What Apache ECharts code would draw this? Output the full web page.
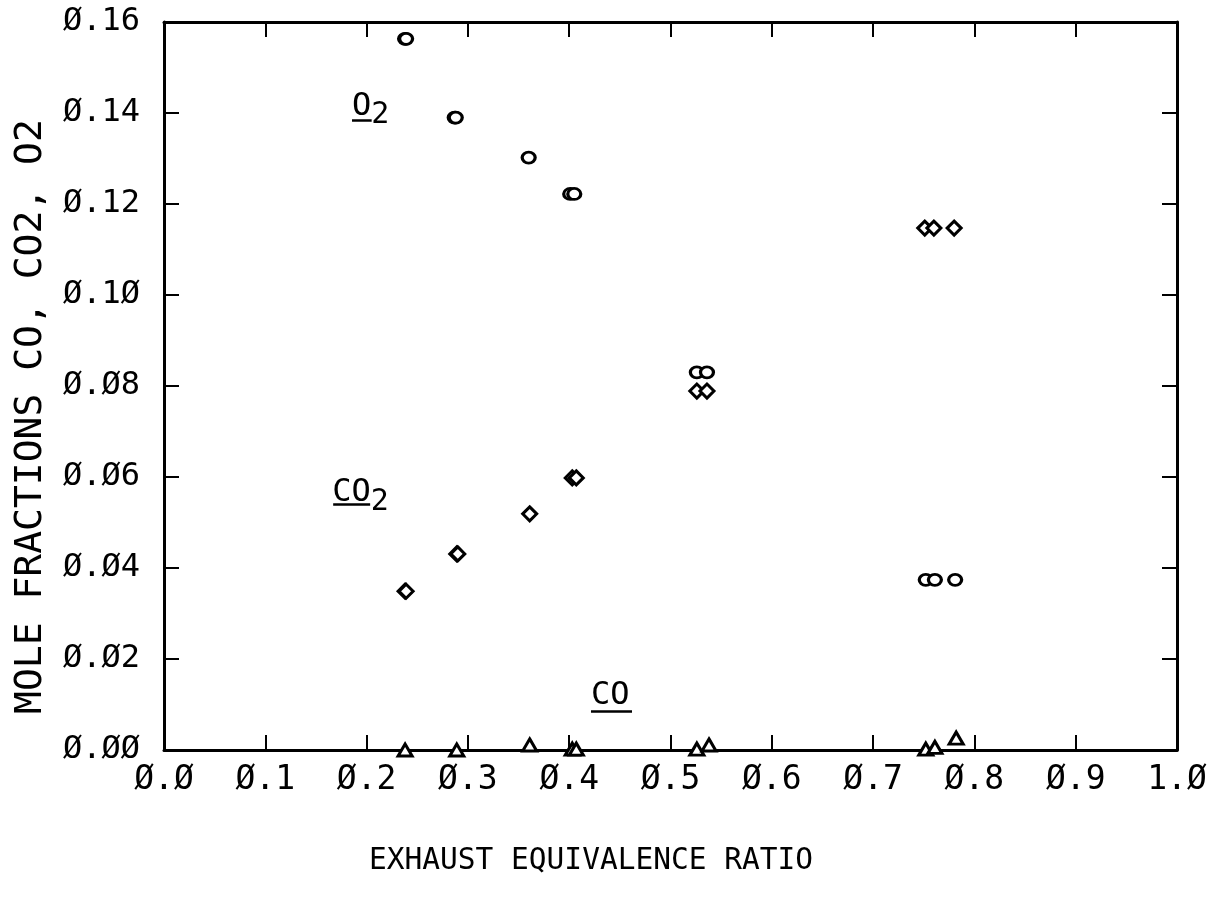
<!DOCTYPE html>
<html><head><meta charset="utf-8">
<script src="https://cdn.jsdelivr.net/npm/echarts@6/dist/echarts.min.js"></script>
<style>html,body{margin:0;padding:0;background:#fff}#c{width:1218px;height:914px}</style>
</head><body><div id="c"></div>
<script>
// Data
var o2X  = [0.238, 0.239, 0.287, 0.288, 0.360, 0.401, 0.405, 0.526, 0.536, 0.752, 0.761, 0.781];
var o2Y  = [0.1563, 0.1563, 0.1390, 0.1390, 0.1302, 0.1222, 0.1222, 0.0830, 0.0830, 0.0374, 0.0374, 0.0374];
var co2X = [0.238, 0.239, 0.289, 0.290, 0.361, 0.403, 0.407, 0.526, 0.536, 0.751, 0.760, 0.780];
var co2Y = [0.0349, 0.0349, 0.0431, 0.0431, 0.0519, 0.0598, 0.0598, 0.0789, 0.0789, 0.1147, 0.1147, 0.1147];
var coX  = [0.238, 0.289, 0.361, 0.403, 0.407, 0.526, 0.538, 0.752, 0.761, 0.782];
var coY  = [0.0000, 0.0000, 0.0011, 0.0002, 0.0002, 0.0002, 0.0011, 0.0002, 0.0006, 0.0026];
var xTicks = [0, 0.1, 0.2, 0.3, 0.4, 0.5, 0.6, 0.7, 0.8, 0.9, 1.0];
var yTicks = [0, 0.02, 0.04, 0.06, 0.08, 0.10, 0.12, 0.14, 0.16];
// annotation labels: [x, y(top-left), main, subscript]
var annotations = [[0.1856, 0.1450, 'O', '2'], [0.1660, 0.0600, 'CO', '2'], [0.4215, 0.0155, 'CO', '']];
// underline segments: [x1, x2, y]
var underlines = [[0.1856, 0.2050, 0.1383], [0.1670, 0.2035, 0.0541], [0.4215, 0.4620, 0.0086]];
var xTitle = 'EXHAUST EQUIVALENCE RATIO';
var yTitle = 'MOLE FRACTIONS CO, CO2, O2';

function zip(a, b) { return a.map(function (v, i) { return [v, b[i]]; }); }
function slash(s) { return s.replace(/0/g, '\u00D8'); }

var font = 'DejaVu Sans Mono';
var chart = echarts.init(document.getElementById('c'), null, {renderer: 'canvas'});
function axisCommon() {
  return {
    min: 0,
    axisLine: {show: true, onZero: false, lineStyle: {color: '#000', width: 3}},
    axisTick: {show: true, inside: true, length: 15, lineStyle: {color: '#000', width: 2}},
    splitLine: {show: false}
  };
}
var mk = {color: '#fff', borderColor: '#000', borderWidth: 3, opacity: 1};
chart.setOption({
  animation: false,
  backgroundColor: '#fff',
  grid: {left: 164, right: 41, top: 22, bottom: 164},
  xAxis: [
    Object.assign(axisCommon(), {type: 'value', max: 1.0, interval: 0.1, position: 'bottom',
      axisLabel: {margin: 14, color: '#000', fontFamily: font, fontSize: 33,
        formatter: function (v) { return slash(v.toFixed(1)); }}}),
    Object.assign(axisCommon(), {type: 'value', max: 1.0, interval: 0.1, position: 'top',
      axisLabel: {show: false}})
  ],
  yAxis: [
    Object.assign(axisCommon(), {type: 'value', max: 0.16, interval: 0.02, position: 'left',
      axisLabel: {margin: 24, color: '#000', fontFamily: font, fontSize: 32,
        formatter: function (v) { return slash(v.toFixed(2)); }}}),
    Object.assign(axisCommon(), {type: 'value', max: 0.16, interval: 0.02, position: 'right',
      axisLabel: {show: false}})
  ],
  graphic: [
    {type: 'text', left: 369, top: 846, style: {text: xTitle, fill: '#000', font: '29.5px "' + font + '"'}},
    {type: 'text', x: 12, y: 714, rotation: Math.PI / 2,
      style: {text: yTitle, fill: '#000', font: '38px "' + font + '"', textAlign: 'left', textVerticalAlign: 'top'}}
  ],
  series: [
    {name: 'O2', type: 'scatter', symbol: 'circle', symbolSize: [13, 11], itemStyle: mk, data: zip(o2X, o2Y)},
    {name: 'CO2', type: 'scatter', symbol: 'diamond', symbolSize: 14, itemStyle: mk, data: zip(co2X, co2Y)},
    {name: 'CO', type: 'scatter', symbol: 'triangle', symbolSize: [14, 12], itemStyle: mk, data: zip(coX, coY)},
    {name: 'labels', type: 'scatter', symbolSize: 0, silent: true, itemStyle: {opacity: 1},
      data: annotations.map(function (a) { return {value: [a[0], a[1]], main: a[2], sub: a[3]}; }),
      label: {show: true, position: [0, 0], align: 'left', verticalAlign: 'top', color: '#000', opacity: 1,
        formatter: function (p) { return '{m|' + p.data.main + '}' + (p.data.sub ? '{s|' + p.data.sub + '}' : ''); },
        rich: {
          m: {fontFamily: font, fontSize: 32, color: '#000', verticalAlign: 'top', lineHeight: 40},
          s: {fontFamily: font, fontSize: 30, color: '#000', verticalAlign: 'bottom', lineHeight: 40, padding: [18, 0, 0, 0]}
        }},
      markLine: {silent: true, symbol: 'none', label: {show: false},
        lineStyle: {color: '#000', width: 2.5, type: 'solid', opacity: 1},
        data: underlines.map(function (u) { return [{coord: [u[0], u[2]]}, {coord: [u[1], u[2]]}]; })}
    }
  ]
});
</script></body></html>
